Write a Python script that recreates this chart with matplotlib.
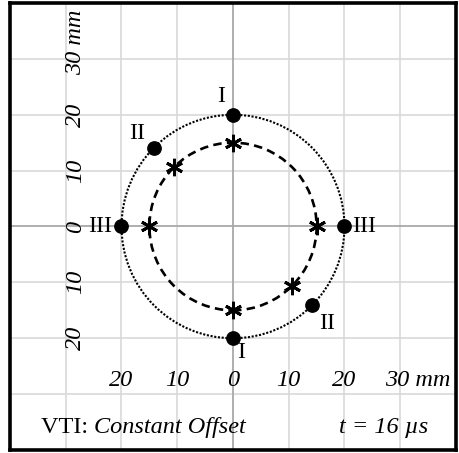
import matplotlib
matplotlib.use("Agg")
import matplotlib.pyplot as plt
from matplotlib.patches import Circle

# ---- data ----
outer_radius = 20
inner_radius = 15
dot_x = [0, -14.1, -20, 20, 0, 14.1]
dot_y = [20, 14.1, 0, 0, -20, -14.1]
star_x = [0, -10.6, -15, 15, 0, 10.6]
star_y = [15, 10.6, 0, 0, -15, -10.6]
point_labels = ["I", "II", "III", "III", "I", "II"]
label_x = [-2.2, -17.2, -23.8, 23.5, 1.4, 16.9]
label_y = [23.2, 16.6, 0.0, 0.0, -22.6, -17.3]
xtick_vals = [-20, -10, 0, 10, 20]
xtick_text = ["20", "10", "0", "10", "20"]
ytick_vals = [20, 10, 0, -10, -20]
ytick_text = ["20", "10", "0", "10", "20"]
grid_vals = [-30, -20, -10, 10, 20, 30]
unit_label = "30 mm"
caption_left = "VTI: "
caption_italic = "Constant Offset"
caption_right = "t = 16 \u00b5s"

serif = ["Liberation Serif", "DejaVu Serif"]

fig = plt.figure(figsize=(4.59, 4.53), dpi=100)
ax = fig.add_axes([10 / 459, 3 / 453, 446 / 459, 447 / 453])
ax.set_xlim(-40, 40)
ax.set_ylim(-40, 40)
ax.set_xticks([])
ax.set_yticks([])
for s in ax.spines.values():
    s.set_linewidth(2.6)
    s.set_color("black")

for g in grid_vals:
    ax.axvline(g, color="#d9d9d9", lw=1.2, zorder=0)
    ax.axhline(g, color="#d9d9d9", lw=1.2, zorder=0)
ax.axvline(0, color="#a8a8a8", lw=1.3, zorder=0.5)
ax.axhline(0, color="#a8a8a8", lw=1.3, zorder=0.5)

ax.add_patch(Circle((0, 0), outer_radius, fill=False, ec="black", lw=1.5,
                    ls=(0, (1, 0.8)), zorder=2))
ax.add_patch(Circle((0, 0), inner_radius, fill=False, ec="black", lw=1.9,
                    ls=(0, (3.2, 2.0)), zorder=2))

ax.plot(dot_x, dot_y, ls="none", marker="o", ms=9.6, color="black", zorder=3)
ax.plot(star_x, star_y, ls="none", marker=(6, 2, 0), ms=12.5, mew=2.1,
        color="black", zorder=3)

for t, x, y in zip(point_labels, label_x, label_y):
    ax.text(x, y, t, ha="center", va="center", fontsize=17, family=serif,
            zorder=4)

for v, t in zip(xtick_vals, xtick_text):
    ax.text(v, -27.5, t, ha="center", va="center", fontsize=17.5, family=serif,
            style="italic")
ax.text(33.2, -27.5, unit_label, ha="center", va="center", fontsize=17.5,
        family=serif, style="italic")

for v, t in zip(ytick_vals, ytick_text):
    ax.text(-28.3, v, t, ha="center", va="center", fontsize=17.5, family=serif,
            style="italic", rotation=90)
ax.text(-28.3, 33.0, unit_label, ha="center", va="center", fontsize=17.5,
        family=serif, style="italic", rotation=90)

t1 = ax.text(-34.4, -36.0, caption_left, ha="left", va="center", fontsize=17.5,
             family=serif)
ax.annotate(caption_italic, xy=(1, 0.5), xycoords=t1, ha="left", va="center",
            fontsize=17.5, family=serif, style="italic")
ax.text(35.0, -36.0, caption_right, ha="right", va="center", fontsize=17.5,
        family=serif, style="italic")

fig.savefig("out.png", dpi=100)
